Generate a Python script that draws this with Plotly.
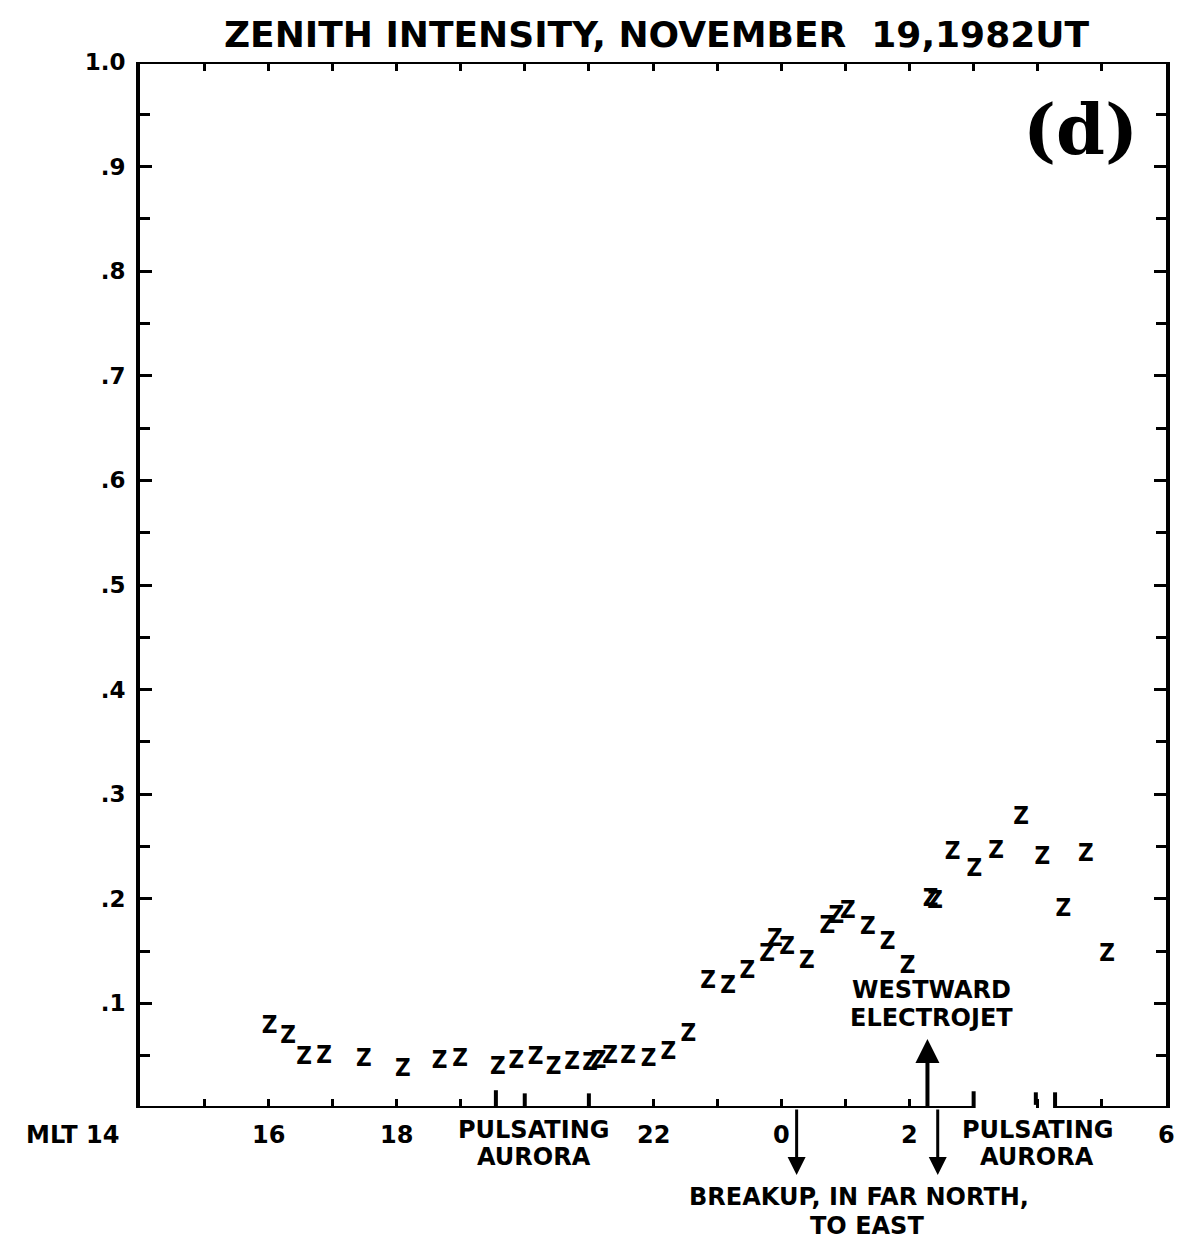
import plotly.graph_objects as go

# Magnetic local time (hours, continuing past midnight as 24+) and zenith intensity
mlt_hours = [16.02, 16.31, 16.56, 16.87, 17.49, 18.10, 18.67, 18.99, 19.58, 19.87,
             20.17, 20.45, 20.74, 21.02, 21.15, 21.33, 21.61, 21.93, 22.24, 22.55,
             22.86, 23.17, 23.47, 23.78, 23.90, 24.09, 24.40, 24.72, 24.86, 25.04,
             25.35, 25.66, 25.97, 26.33, 26.40, 26.67, 27.01, 27.35, 27.74,
             28.07, 28.40, 28.75, 29.08]
intensity = [0.077, 0.068, 0.048, 0.049, 0.046, 0.036, 0.044, 0.046, 0.038, 0.044,
             0.048, 0.038, 0.043, 0.042, 0.044, 0.049, 0.049, 0.046, 0.053, 0.070,
             0.120, 0.116, 0.130, 0.146, 0.161, 0.153, 0.140, 0.173, 0.183, 0.187,
             0.172, 0.158, 0.135, 0.199, 0.197, 0.244, 0.228, 0.245, 0.277,
             0.239, 0.189, 0.242, 0.146]

y_ticks = [0.1, 0.2, 0.3, 0.4, 0.5, 0.6, 0.7, 0.8, 0.9, 1.0]
y_ticktext = [".1", ".2", ".3", ".4", ".5", ".6", ".7", ".8", ".9", "1.0"]

x_labels = [(16, "16"), (18, "18"), (22, "22"), (24, "0"), (26, "2"), (30, "6")]
pulsating_centres = [20.14, 27.99]
breakup_arrows = [24.24, 26.44]
electrojet_arrow = 26.28

BLACK = "black"
LABEL_FONT = dict(family="DejaVu Sans", size=24, color=BLACK, weight="bold")

fig = go.Figure()

fig.add_trace(go.Scatter(
    x=mlt_hours, y=intensity, mode="text", text=["Z"] * len(mlt_hours),
    textposition="middle center",
    textfont=dict(family="DejaVu Sans Condensed, DejaVu Sans", size=24,
                  color=BLACK, weight="bold"),
    cliponaxis=False, showlegend=False, hoverinfo="skip",
))

fig.update_layout(
    width=1178, height=1239,
    margin=dict(l=140, r=8, t=62, b=131),
    paper_bgcolor="white", plot_bgcolor="white",
    showlegend=False,
    xaxis=dict(range=[14, 30], showgrid=False, zeroline=False, showline=False,
               ticks="inside", tickmode="linear", tick0=14, dtick=1,
               ticklen=9, tickwidth=3, tickcolor=BLACK, mirror="ticks",
               showticklabels=False),
    yaxis=dict(range=[0, 1], showgrid=False, zeroline=False, showline=True,
               linewidth=4, linecolor=BLACK, mirror="ticks",
               ticks="inside", tickvals=y_ticks, ticktext=y_ticktext,
               ticklen=12, tickwidth=3, tickcolor=BLACK, ticklabelstandoff=6,
               tickfont=dict(family="DejaVu Sans", size=23, color=BLACK, weight="bold"),
               minor=dict(tickvals=[v - 0.05 for v in y_ticks], ticks="inside",
                          ticklen=10, tickwidth=3, tickcolor=BLACK)),
)

# Frame: top line, and bottom axis interrupted between 27 h and ~28.3 h
frame = [(14, 30, 1), (14, 27.0, 0), (28.27, 30, 0)]
for x0, x1, yv in frame:
    fig.add_shape(type="line", xref="x", yref="y", x0=x0, x1=x1, y0=yv, y1=yv,
                  line=dict(color=BLACK, width=4), layer="above")

# Taller bottom marks bracketing the pulsating-aurora intervals
for xv, h in [(19.55, 0.017), (20.0, 0.014), (21.0, 0.014), (27.0, 0.016),
              (28.27, 0.015)]:
    fig.add_shape(type="line", xref="x", yref="y", x0=xv, x1=xv, y0=0, y1=h,
                  line=dict(color=BLACK, width=4), layer="above")
fig.add_shape(type="line", xref="x", yref="y", x0=27.97, x1=27.97, y0=0.003, y1=0.015,
              line=dict(color=BLACK, width=4), layer="above")

# Title and panel letter
fig.add_annotation(text="ZENITH INTENSITY, NOVEMBER  19,1982UT", xref="paper", yref="paper",
                   x=0.503, y=1.026, showarrow=False, xanchor="center", yanchor="middle",
                   font=dict(family="DejaVu Sans", size=36, color=BLACK, weight="bold"))
fig.add_annotation(text="(d)", xref="paper", yref="paper", x=0.917, y=0.935,
                   showarrow=False, xanchor="center", yanchor="middle",
                   font=dict(family="DejaVu Serif", size=70, color=BLACK, weight="bold"))

# Hour labels under the axis
fig.add_annotation(text="MLT 14", xref="paper", yref="paper", x=-0.019, y=-0.026,
                   showarrow=False, xanchor="right", yanchor="middle", font=LABEL_FONT)
for xv, txt in x_labels:
    fig.add_annotation(text=txt, xref="x", yref="paper", x=xv, y=-0.026,
                       showarrow=False, xanchor="center", yanchor="middle", font=LABEL_FONT)
for xc in pulsating_centres:
    fig.add_annotation(text="PULSATING", xref="x", yref="paper", x=xc, y=-0.021,
                       showarrow=False, xanchor="center", yanchor="middle", font=LABEL_FONT)
    fig.add_annotation(text="AURORA", xref="x", yref="paper", x=xc, y=-0.047,
                       showarrow=False, xanchor="center", yanchor="middle", font=LABEL_FONT)

# Breakup arrows pointing down from the axis
for xv in breakup_arrows:
    fig.add_annotation(text="", xref="x", yref="paper", x=xv, y=-0.064,
                       ax=0, ay=-67, showarrow=True, arrowhead=2, arrowsize=1.2,
                       arrowwidth=3, arrowcolor=BLACK)
fig.add_annotation(text="BREAKUP, IN FAR NORTH,", xref="x", yref="paper", x=25.22, y=-0.085,
                   showarrow=False, xanchor="center", yanchor="middle", font=LABEL_FONT)
fig.add_annotation(text="TO EAST", xref="x", yref="paper", x=25.33, y=-0.1125,
                   showarrow=False, xanchor="center", yanchor="middle", font=LABEL_FONT)

# Westward electrojet arrow pointing up from the axis
fig.add_annotation(text="", xref="x", yref="y", x=electrojet_arrow, y=0.066,
                   ax=0, ay=69, showarrow=True, arrowhead=2, arrowsize=1.2,
                   arrowwidth=4, arrowcolor=BLACK)
fig.add_annotation(text="WESTWARD", xref="x", yref="y", x=26.34, y=0.1128,
                   showarrow=False, xanchor="center", yanchor="middle", font=LABEL_FONT)
fig.add_annotation(text="ELECTROJET", xref="x", yref="y", x=26.34, y=0.086,
                   showarrow=False, xanchor="center", yanchor="middle", font=LABEL_FONT)

fig.write_html("out.html")
